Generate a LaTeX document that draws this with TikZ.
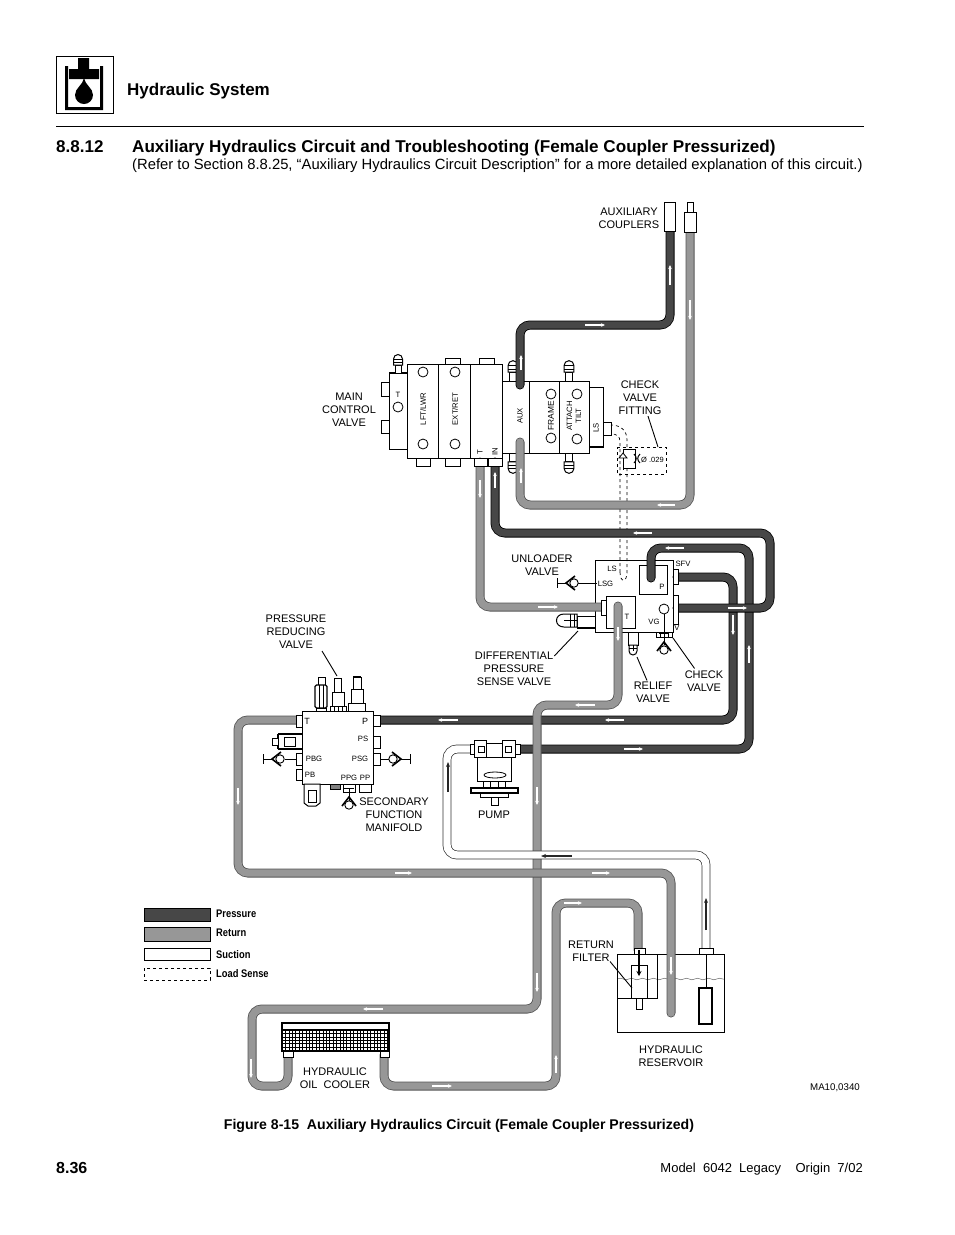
\documentclass[tikz,border=0pt]{standalone}
\usepackage{fontspec}
\setmainfont{Liberation Sans}
\usetikzlibrary{arrows.meta,decorations.pathmorphing}

\definecolor{presfill}{HTML}{474747}
\definecolor{retfill}{HTML}{979797}
\definecolor{retedge}{HTML}{555555}

\tikzset{
    presline/.style={double=presfill,draw=black,line width=.8pt,double distance=7.4pt,rounded corners=10pt,line cap=round},
    retline/.style={double=retfill,draw=retedge,line width=.8pt,double distance=7.4pt,rounded corners=10pt,line cap=round},
    suctline/.style={double=white,draw=black!80,line width=.7pt,double distance=7.4pt,rounded corners=10pt},
    sense/.style={dash pattern=on 3pt off 3pt,line width=.7pt},
    flow/.style={-{Stealth[length=4pt,width=3.5pt]},white,line width=1.3pt},
    sflow/.style={-{Stealth[length=5pt,width=4pt]},black!85,line width=1.1pt},
    part/.style={draw,fill=white,line width=1pt},
    lbl/.style={align=center,inner sep=0pt,font=\fontsize{11}{13}\selectfont},
    tag/.style={inner sep=0pt,font=\fontsize{7.7}{9}\selectfont},
    lead/.style={line width=.9pt},
    legendbox/.style={draw,line width=.8pt},
    legendtxt/.style={anchor=base west,inner sep=0pt,font=\fontsize{11}{12}\bfseries\selectfont},
    chkvalve/.pic={
        \draw[line width=1pt] (-17,-5) -- (-17,5);
        \draw[line width=.9pt] (-17,0) -- (-8,0);
        \draw[line width=1.6pt] (1,-7) -- (-8,0) -- (1,7);
        \draw[fill=white,line width=.9pt] (0,0) circle (4.2);
    },
    nipple/.pic={
        \draw[fill=white,line width=.9pt] (-3,0) -- (-3,-8) -- (3,-8) -- (3,0) -- cycle;
        \draw[fill=white,line width=1pt] (-4.5,-8) -- (-4.5,-14) arc[start angle=180,end angle=360,radius=4.5] -- (4.5,-8) -- cycle;
        \draw[line width=.7pt] (-4.5,-11) -- (4.5,-11) (-4.5,-14) -- (4.5,-14);
    },
}

\begin{document}
\begin{tikzpicture}[x=1pt,y=-1pt]
    \useasboundingbox (0,0) rectangle (954,1235);

    % page head
    \draw[line width=1pt] (56,56) rectangle (113,113);
    \fill (65,66) rectangle (68,110) (65,107) rectangle (103,110) (100,66) rectangle (103,110);
    \fill (78,58) rectangle (89,70) (69,69) rectangle (99,79);
    \fill (84,78) .. controls (85,85) and (93,88) .. (93,95) arc[start angle=0,end angle=180,radius=9] .. controls (75,88) and (83,85) .. (84,78) -- cycle;
    \node[anchor=base west,inner sep=0pt,font=\fontsize{17}{20}\bfseries\selectfont] (chaphead) at (127,95) {Hydraulic System};
    \draw[line width=.8pt] (56,126) -- (864,126);
    \node[anchor=base west,inner sep=0pt,font=\fontsize{17}{20}\bfseries\selectfont] (secnum) at (56,152) {8.8.12};
    \node[anchor=base west,inner sep=0pt,font=\fontsize{17.1}{20}\bfseries\selectfont] (sectitle) at (132,152) {Auxiliary Hydraulics Circuit and Troubleshooting (Female Coupler Pressurized)};
    \node[anchor=base west,inner sep=0pt,font=\fontsize{14.8}{18}\selectfont] (secref) at (132,169) {(Refer to Section 8.8.25, “Auxiliary Hydraulics Circuit Description” for a more detailed explanation of this circuit.)};

    % control valve body
    \draw[part] (389,373) rectangle (407,449);
    \draw[part] (407,364) rectangle (502,458);
    \draw[part] (502,381) rectangle (589,453);
    \draw[part] (589,387) rectangle (603,447);
    \draw[line width=1pt] (438,364) -- (438,458) (470,364) -- (470,458) (529,381) -- (529,453) (559,381) -- (559,453);
    \draw[line width=2pt] (389,373) -- (407,373) (589,447) -- (603,447);
    \foreach \px/\py in {398/407,423/372,423/444,455/372,455/444,551/394,551/438,577/394,577/439}
        \draw[fill=white,line width=.8pt] (\px,\py) circle (5);
    \foreach \px/\py/\wd/\ht in {381/382/8/14,381/420/8/13,445/358/15/6,479/358/15/6,416/458/14/8,445/458/15/8,603/422/8/13}
        \draw[part] (\px,\py) rectangle ++(\wd,\ht);
    \pic at (398,373) {nipple};
    \pic[scale=1.1] at (513,381) {nipple};
    \pic[scale=1.1] at (569,381) {nipple};
    \pic[scale=1.1,rotate=180] at (513,453) {nipple};
    \pic[scale=1.1,rotate=180] at (569,453) {nipple};
    \node[tag] (tagT) at (398,395) {T};
    \node[tag,rotate=90] (tagLFT) at (423,409) {LFT/LWR};
    \node[tag,rotate=90] (tagEXT) at (455,409) {EXT/RET};
    \node[tag,rotate=90] (tagT2) at (480,452) {T};
    \node[tag,rotate=90] (tagIN) at (495,452) {IN};
    \node[tag,rotate=90] (tagAUX) at (520,416) {AUX};
    \node[tag,rotate=90,font=\fontsize{8.4}{9}\selectfont] (tagFRAME) at (551,416) {FRAME};
    \node[tag,rotate=90,align=center] (tagATT) at (574,416) {ATTACH\\TILT};
    \node[tag,rotate=90] (tagLS) at (596,428) {LS};

    % unloader valve body
    \draw[part] (595,560) rectangle (673,632);
    \draw[part] (639,565) rectangle (667,594);
    \draw[part] (606,596) rectangle (635,628);
    \draw[fill=white,line width=.8pt] (664,609) circle (5);
    \draw[line width=.8pt] (664,614) -- (664,645);
    \node[tag] (tagLSup) at (612,569) {LS};
    \node[tag] (tagLSG) at (605.5,584) {LSG};
    \node[tag] (tagP) at (662,587) {P};
    \node[tag] (tagTv) at (627,617) {T};
    \node[tag] (tagVG) at (654,622) {VG};
    \node[tag] (tagV) at (677,628) {V};
    \node[tag] (tagSFV) at (683,564) {SFV};

    % load sense line
    \draw[sense] (620,572) .. controls (620,583) and (627,583) .. (627,572) -- (627,440) .. controls (627,430) and (620,425) .. (611,425);
    \draw[sense] (620,572) -- (620,442) .. controls (620,436) and (617,434) .. (611,434);

    % check valve fitting detail
    \draw[sense] (617,447) -- (666,447) -- (666,474) -- (617,474) -- cycle;
    \draw[line width=.7pt,fill=white] (623,449) rectangle (635,468);
    \draw[line width=.8pt,fill=white] (619,458) -- (623,453) -- (627,458) -- cycle;
    \draw[line width=1pt] (623,458) -- (623,470);
    \draw[line width=1pt] (634,454) .. controls (637,457) and (637,460) .. (634,463) (640,454) .. controls (637,457) and (637,460) .. (640,463);
    \node[tag,anchor=west,font=\fontsize{7.5}{8}\selectfont] (tagorif) at (641,460) {Ø .029};

    % reservoir
    \draw[black!60,line width=.5pt,decorate,decoration={snake,amplitude=.8pt,segment length=11pt}] (617,979) -- (724,979);
    \draw[line width=1pt] (617,954) rectangle (724,1032);
    \draw[line width=.7pt] (657,954) -- (657,998) -- (617,998);

    % pressure lines
    \draw[presline] (520,385) -- (520,325) -- (670,325) -- (670,228);
    \draw[presline] (677,577) -- (733,577) -- (733,720) -- (376,720);
    \draw[presline] (651,578) -- (651,548) -- (749,548) -- (749,749) -- (518,749);
    \draw[presline] (495,462) -- (495,533) -- (770,533) -- (770,608) -- (677,608);

    % return lines
    \draw[retline] (520,442) -- (520,505) -- (690,505) -- (690,228);
    \draw[retline] (480,462) -- (480,607) -- (602,607);
    \draw[retline] (618,606) -- (618,705) -- (537,705) -- (537,1009) -- (252,1009) -- (252,1086) -- (288,1086) -- (288,1055);
    \draw[retline] (384,1055) -- (384,1086) -- (556,1086) -- (556,903) -- (638,903) -- (638,950);
    \draw[retline] (298,720) -- (238,720) -- (238,873) -- (671,873) -- (671,1013);
    \draw[suctline] (473,749) -- (447,749) -- (447,855) -- (706,855) -- (706,950);

    % flow arrows
    \foreach \ax/\ay/\bx/\by in {670/285/670/265,585/325/605/325,521/370/521/355,690/300/690/320,521/483/521/468,480/480/480/498,495/488/495/472,675/505/657/505,652/533/633/533,684/548/665/548,538/607/558/607,728/608/747/608,733/615/733/635,749/663/749/645,618/627/618/641,595/705/575/705,624/720/605/720,458/720/438/720,624/749/643/749,238/788/238/805,537/787/537/805,395/873/412/873,592/873/610/873,537/973/537/992,671/957/671/975,556/1073/556/1055,564/903/582/903,383/1009/363/1009,251/1059/251/1078,432/1086/452/1086}
        \draw[flow] (\ax,\ay) -- (\bx,\by);
    \draw[sflow] (448,792) -- (448,762);
    \draw[sflow] (572,856) -- (541,856);
    \draw[sflow] (706,930) -- (706,898);

    % ports over the lines
    \foreach \px/\py/\wd/\ht in {474/458/13/8,488/458/14/8,601/600/5/15,673/569/5/15,673/595/5/29}
        \draw[part] (\px,\py) rectangle ++(\wd,\ht);
    \draw[line width=1pt,fill=white] (656,632) rectangle (672,637);
    \draw[line width=.6pt] (660,632) -- (660,637) (664,632) -- (664,637) (668,632) -- (668,637);

    % couplers
    \draw[part] (664,202) rectangle (675,231);
    \draw[part] (687,202) rectangle (693,212);
    \draw[part] (684,212) rectangle (696,232);

    % valves on the unloader body
    \draw[line width=1pt] (597,583) -- (578,583);
    \pic at (574,583) {chkvalve};
    \pic[rotate=-90] at (664,650) {chkvalve};
    \draw[part] (577,616) rectangle (595,628);
    \draw[line width=2pt] (577,628) -- (595,628);
    \draw[fill=white,line width=1pt] (577,614) -- (564,614) .. controls (554,614) and (554,627) .. (564,627) -- (577,627) -- cycle;
    \draw[line width=.7pt] (570,614) -- (570,627) (574,614) -- (574,627) (564,620) -- (577,620);
    \draw[part] (628,632) rectangle (638,645);
    \draw[fill=white,line width=1pt] (629,645) -- (629,651) arc[start angle=180,end angle=0,radius=4] -- (637,645) -- cycle;
    \draw[line width=.7pt] (629,648) -- (637,648) (633,645) -- (633,651);

    % manifold
    \draw[part] (302,711) rectangle (373,784);
    \foreach \px/\py/\wd/\ht in {296/715/6/12,373/715/7/11,373/736/7/12,373/753/7/12,296/753/6/12,296/769/6/11,343/784/12/8,359/784/12/8}
        \draw[part] (\px,\py) rectangle ++(\wd,\ht);
    \draw[line width=1.4pt] (278,734) -- (302,734) (278,749) -- (302,749) (278,734) -- (278,749);
    \draw[line width=1pt] (284,737) rectangle (295,746);
    \draw[fill=white,line width=1pt] (272,738) rectangle (278,745);
    \draw[line width=1pt,fill=white] (304,784) -- (304,803) -- (308,806) -- (316,806) -- (320,803) -- (320,784) -- cycle;
    \draw[line width=1pt] (308,790) rectangle (316,802);
    \draw[line width=1pt,fill=black!50] (330,784) rectangle (340,789);
    % cartridges on top
    \draw[part] (318,677) rectangle (325,685);
    \draw[part,line width=1.3pt,rounded corners=1.5pt] (315,685) rectangle (327,708);
    \draw[line width=.8pt] (319,685) -- (319,708) (323,685) -- (323,708);
    \draw[part] (316,708) rectangle (326,711);
    \draw[part] (334,678) rectangle (341,692);
    \draw[part] (332,692) rectangle (344,706);
    \draw[part] (330,706) rectangle (346,711);
    \draw[line width=.7pt] (334,706) -- (334,711) (338,706) -- (338,711) (342,706) -- (342,711);
    \draw[part] (353,677) rectangle (361,689);
    \draw[line width=1.6pt] (353,677) -- (361,677);
    \draw[part] (351,689) rectangle (363,703);
    \draw[part] (348,703) rectangle (365,711);
    \node[tag,font=\fontsize{9}{9}\selectfont] (tagTm) at (307,721) {T};
    \node[tag,font=\fontsize{9}{9}\selectfont] (tagPm) at (365,721) {P};
    \node[tag] (tagPS) at (363,739) {PS};
    \node[tag] (tagPSG) at (360,759) {PSG};
    \node[tag] (tagPBG) at (314,759) {PBG};
    \node[tag] (tagPB) at (310,775) {PB};
    \node[tag] (tagPPG) at (349,778) {PPG};
    \node[tag] (tagPP) at (365,778) {PP};
    \draw[line width=1pt] (285,759) -- (296,759);
    \pic at (280,759) {chkvalve};
    \draw[line width=1pt] (380,759) -- (389,759);
    \pic[rotate=180] at (393,759) {chkvalve};
    \draw[line width=1pt] (349,792) -- (349,801);
    \pic[rotate=-90] at (349,805) {chkvalve};

    % pump
    \draw[part] (477,743) rectangle (511,781);
    \draw[part] (474,740) -- (486,740) -- (486,757) -- (474,757) -- cycle;
    \draw[part] (502,740) -- (515,740) -- (515,757) -- (502,757) -- cycle;
    \draw[part] (470,744) rectangle (474,754);
    \draw[part] (515,744) rectangle (520,754);
    \draw[line width=.8pt] (477,757) -- (511,757) (486,743) -- (502,743);
    \draw[line width=.8pt] (478,746) rectangle (484,752) (505,746) rectangle (511,752);
    \draw[line width=.8pt] (495,775) ellipse (11 and 3);
    \draw[line width=.8pt] (483,781) -- (483,788) (490,781) -- (490,788) (498,781) -- (498,788) (505,781) -- (505,788);
    \draw[part,line width=1.2pt] (471,788) rectangle (518,793);
    \draw[part] (480,793) rectangle (508,797);
    \draw[part] (491,797) rectangle (498,805);

    % cooler
    \draw[part] (282,1023) rectangle (389,1051);
    \foreach \gx in {285.4,288.8,...,388}
        \draw[line width=.5pt] (\gx,1030) -- (\gx,1051);
    \foreach \gy in {1033.4,1036.8,...,1050}
        \draw[line width=.5pt] (282,\gy) -- (389,\gy);
    \draw[line width=1.2pt] (282,1023) rectangle (389,1051) (282,1030) -- (389,1030);
    \draw[part] (283,1051) rectangle (293,1057);
    \draw[part] (380,1051) rectangle (389,1057);

    % filter and pick-up
    \draw[line width=1pt] (631,965) rectangle (647,998);
    \draw[line width=1pt] (636,998) rectangle (642,1009);
    \draw[part] (634,948) rectangle (645,954);
    \draw[-{Stealth[length=5pt,width=5pt]},line width=1.2pt] (639,950) -- (639,976);
    \draw[part] (699,948) rectangle (713,954);
    \draw[line width=.8pt] (706,954) -- (706,988);
    \draw[line width=2pt,fill=white] (699,988) rectangle (712,1024);

    % labels
    \node[lbl] (auxlbl) at (629,218) {AUXILIARY\\COUPLERS};
    \node[lbl] (mainlbl) at (349,410) {MAIN\\CONTROL\\VALVE};
    \node[lbl] (chkfitlbl) at (640,398) {CHECK\\VALVE\\FITTING};
    \node[lbl] (unllbl) at (542,565) {UNLOADER\\VALVE};
    \node[lbl] (prvlbl) at (296,632) {PRESSURE\\REDUCING\\VALVE};
    \node[lbl] (dpsvlbl) at (514,669) {DIFFERENTIAL\\PRESSURE\\SENSE VALVE};
    \node[lbl] (rellbl) at (653,692) {RELIEF\\VALVE};
    \node[lbl] (chklbl) at (704,681) {CHECK\\VALVE};
    \node[lbl] (sfmlbl) at (394,815) {SECONDARY\\FUNCTION\\MANIFOLD};
    \node[lbl] (pumplbl) at (494,815) {PUMP};
    \node[lbl] (coollbl) at (335,1078) {HYDRAULIC\\OIL\ \ COOLER};
    \node[lbl] (filtlbl) at (591,951) {RETURN\\FILTER};
    \node[lbl] (reslbl) at (671,1056) {HYDRAULIC\\RESERVOIR};

    % leaders
    \coordinate (prvend) at (337,676);
    \coordinate (fitend) at (658,447);
    \coordinate (dpsvend) at (578,631);
    \coordinate (relend) at (637,657);
    \coordinate (chkend) at (673,638);
    \coordinate (filtend) at (632,988);
    \draw[lead] (322,651) -- (prvend);
    \draw[lead] (chkfitlbl.south) ++(8,1) -- (fitend);
    \draw[lead] (dpsvlbl.north east) ++(1,4) -- (dpsvend);
    \draw[lead] (rellbl.north) ++(-6,-1) -- (relend);
    \draw[lead] (chklbl.north west) ++(10,-2) -- (chkend);
    \draw[lead] (filtlbl.south) ++(19,0) -- (filtend);

    % legend
    \draw[legendbox,fill=presfill] (144,908) rectangle (210,921);
    \draw[legendbox,fill=retfill] (144,927) rectangle (210,941);
    \draw[legendbox,fill=white] (144,948) rectangle (210,960);
    \draw[sense] (144,968) rectangle (210,980);
    \node[legendtxt] (legpres) at (216,917) {\scalebox{.85}[1]{Pressure}};
    \node[legendtxt] (legret) at (216,936) {\scalebox{.85}[1]{Return}};
    \node[legendtxt] (legsuct) at (216,958) {\scalebox{.85}[1]{Suction}};
    \node[legendtxt] (legload) at (216,977) {\scalebox{.85}[1]{Load Sense}};

    % page foot
    \node[anchor=base east,inner sep=0pt,font=\fontsize{9.7}{11}\selectfont] (maref) at (860,1090) {MA10,0340};
    \node[anchor=base,inner sep=0pt,font=\fontsize{14.1}{16}\bfseries\selectfont] (figcap) at (459,1129) {Figure 8-15\ \ Auxiliary Hydraulics Circuit (Female Coupler Pressurized)};
    \node[anchor=base west,inner sep=0pt,font=\fontsize{16}{18}\bfseries\selectfont] (pagenum) at (56,1173) {8.36};
    \node[anchor=base east,inner sep=0pt,font=\fontsize{13}{14}\selectfont] (pagefoot) at (863,1172) {Model\ \ 6042\ \ Legacy\ \ \ \ Origin\ \ 7/02};
\end{tikzpicture}
\end{document}
